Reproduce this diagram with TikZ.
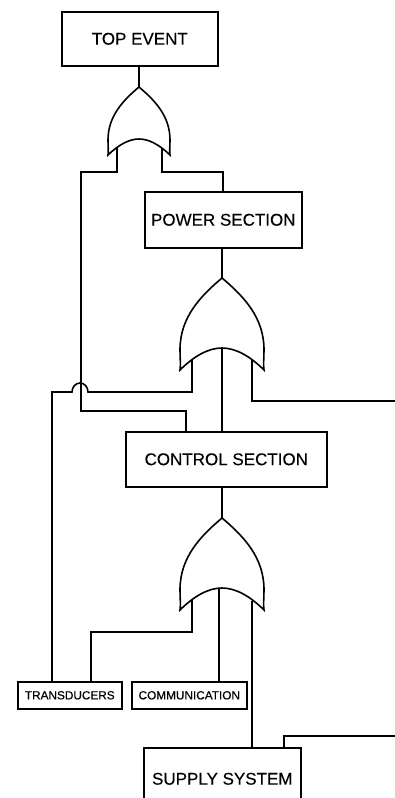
\documentclass[tikz,border=0pt]{standalone}
\usepackage{fontspec}
\setmainfont{Liberation Sans}
\newfontfamily\smallfont[FakeBold=0.5]{Liberation Sans}
\newfontfamily\bigfont[FakeBold=0.2]{Liberation Sans}
\tikzset{
  ln/.style={line width=1.6pt,black,line join=miter},
  evbox/.style={draw=black,line width=1.6pt,rectangle,inner sep=0pt,align=center,anchor=north west},
  bigbox/.style={evbox,font=\bigfont\fontsize{17}{20}\selectfont},
  smallbox/.style={evbox,font=\smallfont\fontsize{11.8}{14}\selectfont},
}
% or-gate: #1 apex x, #2 apex y, #3 half width, #4 height, #5 notch depth from apex
\newcommand{\orgate}[5]{%
  \draw[ln] (#1,#2)
    .. controls ({#1-0.52*#3},{#2+0.2*#4}) and ({#1-#3},{#2+0.43*#4}) .. ({#1-#3},{#2+0.78*#4})
    .. controls ({#1-#3},{#2+0.86*#4}) and ({#1-0.98*#3},{#2+0.95*#4}) .. ({#1-#3},{#2+#4})
    .. controls ({#1-0.67*#3},{#2+#5+0.09*#4}) and ({#1-0.33*#3},{#2+#5}) .. (#1,{#2+#5})
    .. controls ({#1+0.33*#3},{#2+#5}) and ({#1+0.67*#3},{#2+#5+0.09*#4}) .. ({#1+#3},{#2+#4})
    .. controls ({#1+0.98*#3},{#2+0.95*#4}) and ({#1+#3},{#2+0.86*#4}) .. ({#1+#3},{#2+0.78*#4})
    .. controls ({#1+#3},{#2+0.43*#4}) and ({#1+0.52*#3},{#2+0.2*#4}) .. (#1,#2) -- cycle;}
\begin{document}
\begin{tikzpicture}[x=1pt,y=-1pt]
\useasboundingbox (0,0) rectangle (395,798);
\clip (0,0) rectangle (395,798);
\node[bigbox,minimum width=156pt,minimum height=54pt] (top) at (61,11) {TOP EVENT};
\node[bigbox,minimum width=157pt,minimum height=56pt] (power) at (144,191) {POWER SECTION};
\node[bigbox,minimum width=201pt,minimum height=55pt] (control) at (125,431) {CONTROL SECTION};
\node[smallbox,minimum width=104pt,minimum height=27pt] (trans) at (17,681) {TRANSDUCERS};
\node[smallbox,minimum width=115pt,minimum height=27pt] (comm) at (131,681) {COMMUNICATION};
\node[bigbox,minimum width=157pt,minimum height=62pt] (supply) at (143,747) {SUPPLY SYSTEM};
\coordinate (g1) at (139,87);
\coordinate (g2) at (222,278);
\coordinate (g3) at (222,518);
\coordinate (g1l) at (117,148);
\coordinate (g1r) at (162,148);
\coordinate (g2l) at (192,359);
\coordinate (g2c) at (222,348);
\coordinate (g2r) at (252,359);
\coordinate (g3l) at (192,600);
\coordinate (g3c) at (219,588);
\coordinate (g3r) at (252,601);
\coordinate (rightA) at (395,401);
\coordinate (rightB) at (395,736);
\draw[ln] (top.south -| g1) -- (g1);
\orgate{139}{87}{31}{68}{52}
\orgate{222}{278}{42}{92}{70}
\orgate{222}{518}{42}{92}{70}
% first gate inputs
\draw[ln] (g1l) -- (117,172) -- (81,172) -- (81,411) -- (186,411) -- (186,431);
\draw[ln] (g1r) -- (162,172) -- (223,172) -- (223,191);
% second gate
\draw[ln] (power.south -| g2) -- (g2);
\draw[ln] (g2l) -- (192,392) -- (88,392) arc (0:180:8pt and 9pt) -- (52,392) -- (52,681);
\draw[ln] (g2c) -- (control.north -| g2c);
\draw[ln] (g2r) -- (252,401) -- (rightA);
% third gate
\draw[ln] (control.south -| g3) -- (g3);
\draw[ln] (g3l) -- (192,632) -- (91,632) -- (91,681);
\draw[ln] (g3c) -- (comm.north -| g3c);
\draw[ln] (g3r) -- (supply.north -| g3r);
\draw[ln] (284,747) -- (284,736) -- (rightB);
\end{tikzpicture}
\end{document}
